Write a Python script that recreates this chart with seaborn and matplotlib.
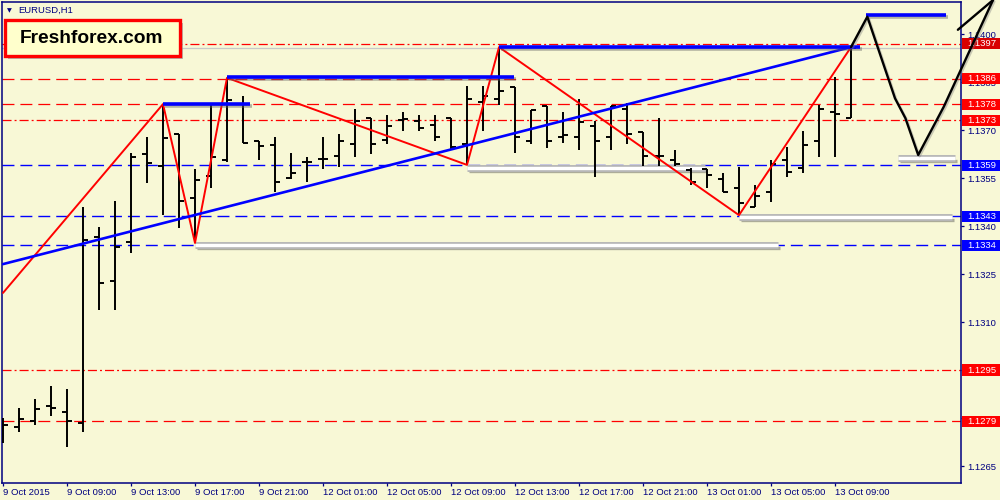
import matplotlib
matplotlib.use("Agg")
import matplotlib.pyplot as plt
import matplotlib.patheffects as pe
import matplotlib.transforms as mtransforms
from matplotlib.patches import Rectangle
import numpy as np
import seaborn as sns

# ---------------- data ----------------
bar_open = [1.12763, 1.12772, 1.12791, 1.12838, 1.12819, 1.12784, 1.13366, 1.13228, 1.13350, 1.13625,
            1.13588, 1.13688, 1.13488, 1.13556, 1.13606, 1.13781, 1.13666, 1.13653, 1.13550, 1.13600,
            1.13609, 1.13619, 1.13656, 1.13738, 1.13669, 1.13731, 1.13728, 1.13716, 1.13738, 1.13656,
            1.13788, 1.13797, 1.13834, 1.13666, 1.13775, 1.13678, 1.13678, 1.13713, 1.13678, 1.13766,
            1.13694, 1.13619, 1.13606, 1.13575, 1.13578, 1.13547, 1.13519, 1.13459, 1.13506, 1.13606,
            1.13581, 1.13666, 1.13756, 1.13738]
bar_high = [1.12800, 1.12831, 1.12859, 1.12900, 1.12891, 1.13459, 1.13397, 1.13478, 1.13628, 1.13678,
            1.13781, 1.13688, 1.13578, 1.13784, 1.13863, 1.13806, 1.13666, 1.13678, 1.13628, 1.13616,
            1.13678, 1.13688, 1.13766, 1.13738, 1.13747, 1.13756, 1.13747, 1.13747, 1.13738, 1.13838,
            1.13838, 1.13959, 1.13834, 1.13763, 1.13775, 1.13756, 1.13797, 1.13728, 1.13775, 1.13784,
            1.13694, 1.13738, 1.13638, 1.13581, 1.13578, 1.13566, 1.13584, 1.13528, 1.13606, 1.13647,
            1.13697, 1.13778, 1.13866, 1.13959]
bar_low = [1.12722, 1.12756, 1.12778, 1.12806, 1.12709, 1.12756, 1.13138, 1.13138, 1.13316, 1.13534,
           1.13434, 1.13394, 1.13347, 1.13519, 1.13600, 1.13659, 1.13606, 1.13506, 1.13547, 1.13538,
           1.13578, 1.13584, 1.13616, 1.13625, 1.13656, 1.13697, 1.13697, 1.13666, 1.13638, 1.13591,
           1.13697, 1.13778, 1.13628, 1.13656, 1.13644, 1.13659, 1.13638, 1.13553, 1.13638, 1.13656,
           1.13588, 1.13588, 1.13588, 1.13528, 1.13519, 1.13506, 1.13434, 1.13459, 1.13475, 1.13553,
           1.13566, 1.13616, 1.13616, 1.13738]
bar_close = [1.12778, 1.12797, 1.12828, 1.12831, 1.12791, 1.13356, 1.13222, 1.13334, 1.13616, 1.13597,
             1.13675, 1.13478, 1.13544, 1.13616, 1.13794, 1.13659, 1.13650, 1.13538, 1.13566, 1.13600,
             1.13609, 1.13666, 1.13728, 1.13656, 1.13713, 1.13734, 1.13706, 1.13678, 1.13647, 1.13797,
             1.13806, 1.13822, 1.13678, 1.13763, 1.13666, 1.13684, 1.13725, 1.13666, 1.13775, 1.13688,
             1.13619, 1.13619, 1.13594, 1.13538, 1.13559, 1.13506, 1.13472, 1.13494, 1.13594, 1.13569,
             1.13653, 1.13766, 1.13750, 1.13956]

time_label_bars = [0, 4, 8, 12, 16, 20, 24, 28, 32, 36, 40, 44, 48, 52]
time_labels = ["9 Oct 2015", "9 Oct 09:00", "9 Oct 13:00", "9 Oct 17:00", "9 Oct 21:00",
               "12 Oct 01:00", "12 Oct 05:00", "12 Oct 09:00", "12 Oct 13:00", "12 Oct 17:00",
               "12 Oct 21:00", "13 Oct 01:00", "13 Oct 05:00", "13 Oct 09:00"]

price_ticks = [1.1265, 1.1280, 1.1295, 1.1310, 1.1325, 1.1340, 1.1355, 1.1370, 1.1385, 1.1400]

zigzag_bars = [0, 10, 12, 14, 29, 31, 46, 53]
zigzag_prices = [1.13191, 1.13781, 1.13347, 1.13863, 1.13591, 1.13959, 1.13434, 1.13959]

trend_bars = [0, 53]
trend_prices = [1.13281, 1.13959]

resist_start = [10, 14, 31, 53.94]
resist_end = [15.44, 31.94, 53.56, 58.94]
resist_price = [1.13781, 1.13866, 1.13959, 1.14059]

support_start = [12, 29, 46, 55.94]
support_end = [48.44, 43.88, 59.3, 59.5]
support_price = [1.13340, 1.13580, 1.13428, 1.13612]

forecast_bars = [53, 54.02, 55.75, 56.4, 57.2, 58.8, 61.875]
forecast_prices = [1.13959, 1.14054, 1.13799, 1.13737, 1.13622, 1.13773, 1.14106]

red_levels = [1.1397, 1.1386, 1.1378, 1.1373, 1.1295, 1.1279]
red_level_styles = ["dashdot", "dashed", "dashed", "dashdot", "dashdot", "dashed"]
blue_levels = [1.1359, 1.1343, 1.1334]
bid_price = 1.13956

# ---------------- style ----------------
sns.set_theme(style="white")
plt.rcParams['font.family'] = ['Liberation Sans', 'DejaVu Sans']
plt.rcParams['lines.scale_dashes'] = False

BG = '#f8f8d6'
NAVY = '#000080'
RED = '#ff0000'
BLUE = '#0000ff'
DASH = (0, (8.6, 4.3))
DASHDOT = (0, (6.5, 2.2, 1.4, 2.2))

fig = plt.figure(figsize=(10, 5), dpi=100, facecolor=BG)
ax = fig.add_axes([0.002, 0.034, 0.959, 0.962])
ax.set_facecolor(BG)

# level lines
for p, st in zip(red_levels, red_level_styles):
    ax.axhline(p, color=RED, lw=0.9, linestyle=DASH if st == "dashed" else DASHDOT, zorder=1)
for p in blue_levels:
    ax.axhline(p, color=BLUE, lw=1.0, linestyle=DASH, zorder=1)
ax.axhline(bid_price, color='#c8c8c8', lw=0.9, zorder=1)

# support (white/gray) segments
ax.hlines(support_price, support_start, support_end, colors='white', lw=2.4, zorder=2,
          path_effects=[pe.SimpleLineShadow(offset=(1.5, -2), shadow_color='#505050', alpha=0.45),
                        pe.Stroke(linewidth=5.0, foreground='#b8b8b8'), pe.Normal()])

# OHLC bars
idx = np.arange(len(bar_open))
ax.vlines(idx, bar_low, bar_high, colors='black', lw=1.4, zorder=3)
ax.hlines(bar_open, idx - 0.33, idx, colors='black', lw=1.4, zorder=3)
ax.hlines(bar_close, idx, idx + 0.33, colors='black', lw=1.4, zorder=3)

# zigzag and trend
sns.lineplot(x=zigzag_bars, y=zigzag_prices, color=RED, lw=1.4, sort=False, estimator=None, ax=ax, zorder=4)
sns.lineplot(x=trend_bars, y=trend_prices, color=BLUE, lw=1.9, sort=False, estimator=None, ax=ax, zorder=4)

# resistance (blue) segments
ax.hlines(resist_price, resist_start, resist_end, colors=BLUE, lw=2.6, zorder=5,
          path_effects=[pe.SimpleLineShadow(offset=(1.5, -1.5), shadow_color='#606060', alpha=0.45),
                        pe.Normal()])

# forecast path
sns.lineplot(x=forecast_bars, y=forecast_prices, color='black', lw=1.7, sort=False, estimator=None, ax=ax, zorder=12)
fl = ax.lines[-1]
fl.set_clip_on(False)
fl.set_path_effects([pe.SimpleLineShadow(offset=(1, -1), shadow_color='gray', alpha=0.4), pe.Normal()])

ax.set_xlim(-0.0625, 59.875)
ax.set_ylim(1.12597, 1.14100)

# arrow barb at the end of the forecast path (computed from last segment direction)
tip = ax.transData.transform((forecast_bars[-1], forecast_prices[-1]))
prev = ax.transData.transform((forecast_bars[-2], forecast_prices[-2]))
v = (prev - tip) / np.hypot(*(prev - tip))
ang = np.deg2rad(-25)
rot = np.array([[np.cos(ang), -np.sin(ang)], [np.sin(ang), np.cos(ang)]])
barb_end = ax.transData.inverted().transform(tip + rot @ v * 46)
ax.plot([forecast_bars[-1], barb_end[0]], [forecast_prices[-1], barb_end[1]], color='black', lw=1.7,
        clip_on=False, zorder=12, solid_capstyle='round')

# axes styling
for s in ax.spines.values():
    s.set_color(NAVY)
    s.set_linewidth(1.1)
ax.yaxis.tick_right()
ax.set_yticks(price_ticks)
ax.set_yticklabels([f"{p:.4f}" for p in price_ticks])
ax.set_xticks(time_label_bars)
ax.set_xticklabels(time_labels, ha='left')
ax.tick_params(axis='both', which='both', direction='out', length=2.3, width=0.9, color=NAVY,
               labelcolor=NAVY, labelsize=6.8)
ax.tick_params(axis='y', pad=2.2, right=True, left=False)
ax.tick_params(axis='x', pad=1.5, bottom=True)
ax.set_xlabel("")
ax.set_ylabel("")

# price tags on the right
btf = mtransforms.blended_transform_factory(ax.transAxes, ax.transData)
half = 0.000175
for p in red_levels + blue_levels:
    col = BLUE if p in blue_levels else RED
    if abs(p - 1.1397) < 1e-6:
        col = '#d80000'
    ax.add_patch(Rectangle((1.0015, p - half), 0.041, 2 * half, transform=btf, clip_on=False,
                           facecolor=col, edgecolor='none', zorder=10))
    ax.text(1.0215, p, f"{p:.4f}", transform=btf, ha='center', va='center', color='white',
            fontsize=6.8, zorder=11, clip_on=False)

# title and logo
fig.text(0.0095, 0.979, '\u25BC', fontsize=4.5, color=NAVY, ha='center', va='center', family='DejaVu Sans')
fig.text(0.018, 0.979, 'EURUSD,H1', fontsize=6.8, color=NAVY, ha='left', va='center')
fig.patches.append(Rectangle((0.008, 0.882), 0.175, 0.072, transform=fig.transFigure,
                             facecolor='#909090', edgecolor='none', alpha=0.6, zorder=20))
fig.patches.append(Rectangle((0.005, 0.888), 0.175, 0.072, transform=fig.transFigure,
                             facecolor='#ffffcc', edgecolor='#ff0000', lw=2.4, zorder=21))
fig.text(0.0915, 0.923, 'Freshforex.com', fontsize=13.8, fontweight='bold', color='black',
         ha='center', va='center', zorder=22)

fig.savefig('out.png', dpi=100, facecolor=BG)
